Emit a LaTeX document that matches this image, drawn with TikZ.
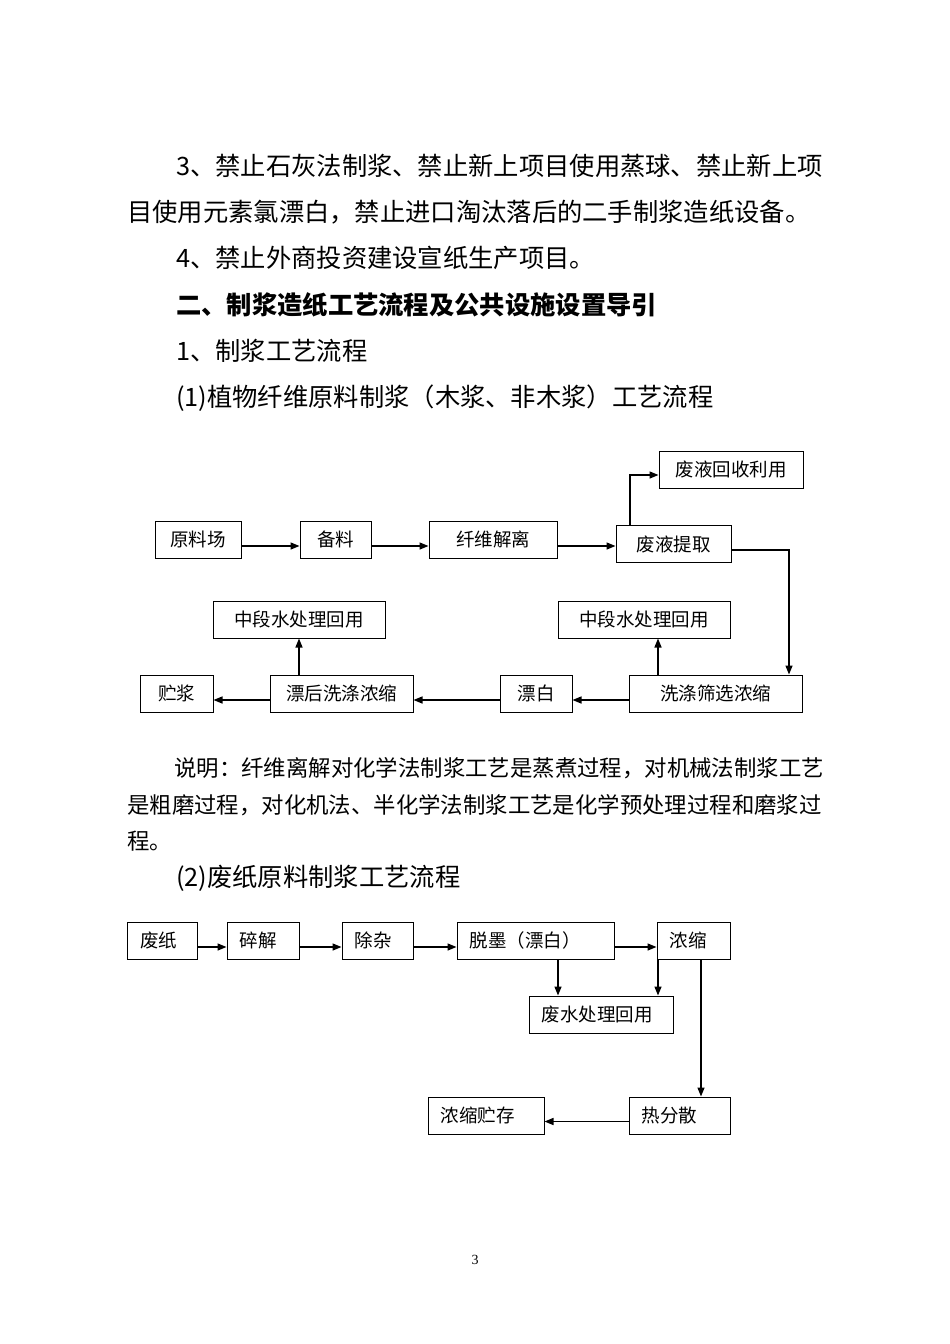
\documentclass[tikz,border=0pt]{standalone}
\usepackage{fontspec}
\setmainfont{Noto Sans CJK SC}
\newfontfamily\pagefont{Liberation Serif}
\usetikzlibrary{arrows.meta}

\begin{document}
\begin{tikzpicture}[x=1pt, y=-1pt,
    para/.style={anchor=west, inner sep=0pt, text height=22.3pt, text depth=3pt, font=\fontsize{25.3}{30}\selectfont},
    note/.style={anchor=west, inner sep=0pt, text height=19.7pt, text depth=2.7pt, font=\fontsize{22.4}{26}\selectfont},
    box/.style={rectangle, draw, line width=1pt, minimum height=37pt, inner sep=0pt, text height=16.3pt, text depth=2.2pt, font=\fontsize{18.5}{20}\selectfont},
    lbox/.style={box, text width=#1, align=left, inner xsep=12.5pt},
    flow/.style={-{Triangle[length=9pt,width=7pt]}, line width=1.4pt}]
    \useasboundingbox (0,0) rectangle (950,1344);

    % text of the page
    \node[para] (t1) at (176,166) {3、禁止石灰法制浆、禁止新上项目使用蒸球、禁止新上项};
    \node[para] (t2) at (127,212) {目使用元素氯漂白，禁止进口淘汰落后的二手制浆造纸设备。};
    \node[para] (t3) at (176,258) {4、禁止外商投资建设宣纸生产项目。};
    \node[para] (t4) at (176,305) {\bfseries 二、制浆造纸工艺流程及公共设施设置导引};
    \node[para] (t5) at (176,351) {1、制浆工艺流程};
    \node[para] (t6) at (176,397) {(1)植物纤维原料制浆（木浆、非木浆）工艺流程};

    % flow 1
    \node[box, minimum width=144pt] (hs) at (731,469.5) {废液回收利用};
    \node[box, minimum width=86pt] (ylc) at (198,539.5) {原料场};
    \node[box, minimum width=71pt] (bl) at (335.5,539.5) {备料};
    \node[box, minimum width=128pt] (xw) at (493,539.5) {纤维解离};
    \node[box, minimum width=115pt] (tq) at (673.5,544) {废液提取};
    \node[box, minimum width=172pt] (zd1) at (299,619.5) {中段水处理回用};
    \node[box, minimum width=172pt] (zd2) at (644,619.5) {中段水处理回用};
    \node[box, minimum width=73pt] (zj) at (176.5,693.5) {贮浆};
    \node[box, minimum width=143pt] (ph) at (341.5,693.5) {漂后洗涤浓缩};
    \node[box, minimum width=72pt] (pb) at (536,693.5) {漂白};
    \node[box, minimum width=173pt] (xd) at (715.5,693.5) {洗涤筛选浓缩};

    \draw[flow] (ylc.east |- 0,546) -- (bl.west |- 0,546);
    \draw[flow] (bl.east |- 0,546) -- (xw.west |- 0,546);
    \draw[flow] (xw.east |- 0,546) -- (tq.west |- 0,546);
    \draw[flow] (630,0 |- tq.north) |- (hs.west |- 0,475);
    \draw[flow] (tq.east |- 0,550) -| (789,0 |- xd.north);
    \draw[flow] (658,0 |- xd.north) -- (658,0 |- zd2.south);
    \draw[flow] (xd.west |- 0,700) -- (pb.east |- 0,700);
    \draw[flow] (pb.west |- 0,700) -- (ph.east |- 0,700);
    \draw[flow] (zd1.south |- ph.north) -- (zd1.south);
    \draw[flow] (ph.west |- 0,700) -- (zj.east |- 0,700);

    \node[note] (n1) at (174,768) {说明：纤维离解对化学法制浆工艺是蒸煮过程，对机械法制浆工艺};
    \node[note] (n2) at (127,805) {是粗磨过程，对化机法、半化学法制浆工艺是化学预处理过程和磨浆过};
    \node[note] (n3) at (127,841) {程。};
    \node[para] (t7) at (176,877) {(2)废纸原料制浆工艺流程};

    % flow 2
    \node[lbox=45pt] (fz) at (162.5,940.5) {废纸};
    \node[lbox=47pt] (sj) at (263,940.5) {碎解};
    \node[lbox=46pt] (cz) at (377.5,940.5) {除杂};
    \node[lbox=132pt] (tm) at (535.5,940.5) {脱墨（漂白）};
    \node[lbox=48pt] (ns) at (693.5,940.5) {浓缩};
    \node[lbox=119pt] (fs) at (601,1014.5) {废水处理回用};
    \node[lbox=91pt] (nc) at (486,1115.5) {浓缩贮存};
    \node[lbox=76pt] (rfs) at (679.5,1115.5) {热分散};

    \draw[flow] (fz.east |- 0,947) -- (sj.west |- 0,947);
    \draw[flow] (sj.east |- 0,947) -- (cz.west |- 0,947);
    \draw[flow] (cz.east |- 0,947) -- (tm.west |- 0,947);
    \draw[flow] (tm.east |- 0,947) -- (ns.west |- 0,947);
    \draw[flow] (558,0 |- tm.south) -- (558,0 |- fs.north);
    \draw[flow] (658,0 |- ns.south) -- (658,0 |- fs.north);
    \draw[flow] (701,0 |- ns.south) -- (701,0 |- rfs.north);
    \draw[flow] (rfs.west |- 0,1121.5) -- (nc.east |- 0,1121.5);

    \node[inner sep=0pt, font=\pagefont\fontsize{14}{16}\selectfont] (pg) at (475,1260) {3};
\end{tikzpicture}
\end{document}
